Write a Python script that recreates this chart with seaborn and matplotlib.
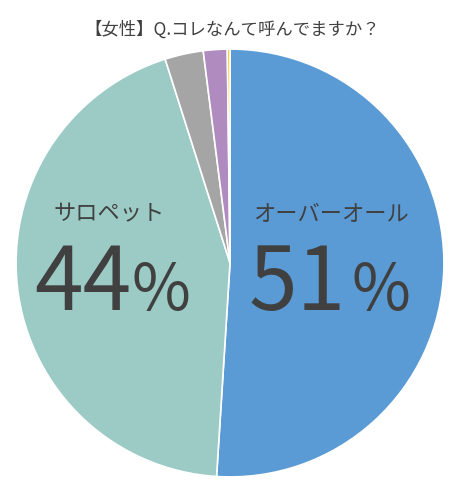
import matplotlib
matplotlib.use("Agg")
import matplotlib.pyplot as plt
import seaborn as sns

# data (clockwise from 12 o'clock)
labels = ["オーバーオール", "サロペット", "その他1", "その他2", "その他3"]
values = [51.0, 44.1, 2.9, 1.8, 0.2]
colors = ["#5b9bd5", "#9ccbc6", "#a5a5a5", "#b08bbf", "#ffc000"]
shown = {"オーバーオール": "51", "サロペット": "44"}
title = "【女性】Q.コレなんて呼んでますか？"

sns.set_theme(style="white")
plt.rcParams["font.family"] = ["Noto Sans CJK JP", "DejaVu Sans"]

fig = plt.figure(figsize=(4.64, 5.0), dpi=100)
ax = fig.add_axes([15 / 464, (500 - 263 - 215) / 500, 430 / 464, 430 / 500])

ax.pie(values, colors=colors, startangle=90, counterclock=False,
       wedgeprops=dict(edgecolor="white", linewidth=1.2))
ax.set_xlim(-1.005, 1.005)
ax.set_ylim(-1.005, 1.005)
ax.set_aspect("equal")
ax.axis("off")

txt = "#404040"
# label name centre x, number right edge, % left edge (data units)
pos = {"オーバーオール": (0.47, 0.54, 0.57),
       "サロペット": (-0.565, -0.46, -0.46)}
for lab in shown:
    xc, xn, xp = pos[lab]
    ax.text(xc, 0.228, lab, ha="center", va="center", fontsize=16, color=txt)
    ax.text(xn, -0.219, shown[lab], ha="right", va="baseline",
            fontsize=63, color=txt)
    ax.text(xp, -0.219, "%", ha="left", va="baseline", fontsize=46, color=txt)

fig.text(0.5, 0.94, title, ha="center", va="center", fontsize=12.5, color=txt)

fig.savefig("out.png", dpi=100, facecolor="white")
